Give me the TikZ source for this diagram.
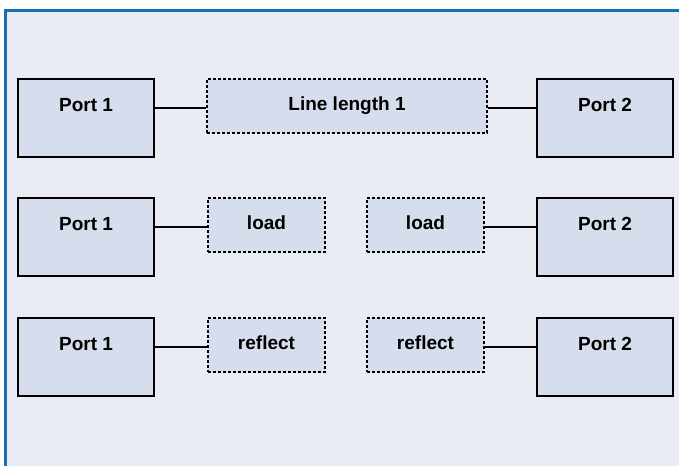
\documentclass[tikz,border=0pt]{standalone}
\usepackage{fontspec}
\setmainfont{Liberation Sans}
\definecolor{panelbg}{RGB}{233,236,245}
\definecolor{boxfill}{RGB}{214,221,236}
\definecolor{frameblue}{RGB}{22,112,180}
\begin{document}
\begin{tikzpicture}[x=1pt,y=-1pt,
  lbl/.style={font=\bfseries\fontsize{19}{22}\selectfont},
  portbox/.style={lbl,draw=black,line width=1.4pt,fill=boxfill,inner sep=0pt,
    minimum width=136pt,text height=32.8pt,text depth=45.2pt},
  dashbox/.style={lbl,draw=black,line width=1.2pt,dash pattern=on 3pt off 2pt,
    fill=boxfill,inner sep=0pt,text height=31.6pt,text depth=22.4pt},
  wire/.style={draw=black,line width=1.2pt}]
  \useasboundingbox (0,0) rectangle (679,466);
  \fill[white] (0,0) rectangle (679,466);
  % outer panel, running off the right and bottom edges
  \fill[panelbg] (5.5,10.5) rectangle (679,466);
  \draw[frameblue,line width=3pt] (5.5,466) -- (5.5,10.5) -- (679,10.5);

  % row 1: through line
  \node[portbox] (pa1) at (86,118) {Port 1};
  \node[portbox] (pb1) at (605,118) {Port 2};
  \node[dashbox,minimum width=280pt] (ll) at (347,106) {Line length 1};
  \draw[wire] ([yshift=-2pt]ll.west -| pa1.east) -- ([yshift=-2pt]ll.west);
  \draw[wire] ([yshift=-2pt]ll.east) -- ([yshift=-2pt]ll.east -| pb1.west);

  % row 2: loads
  \node[portbox] (pa2) at (86,237) {Port 1};
  \node[portbox] (pb2) at (605,237) {Port 2};
  \node[dashbox,minimum width=117pt] (ld1) at (266.5,225) {load};
  \node[dashbox,minimum width=117pt] (ld2) at (425.5,225) {load};
  \draw[wire] ([yshift=-2pt]ld1.west -| pa2.east) -- ([yshift=-2pt]ld1.west);
  \draw[wire] ([yshift=-2pt]ld2.east) -- ([yshift=-2pt]ld2.east -| pb2.west);

  % row 3: reflects
  \node[portbox] (pa3) at (86,357) {Port 1};
  \node[portbox] (pb3) at (605,357) {Port 2};
  \node[dashbox,minimum width=117pt] (rf1) at (266.5,345) {reflect};
  \node[dashbox,minimum width=117pt] (rf2) at (425.5,345) {reflect};
  \draw[wire] ([yshift=-2pt]rf1.west -| pa3.east) -- ([yshift=-2pt]rf1.west);
  \draw[wire] ([yshift=-2pt]rf2.east) -- ([yshift=-2pt]rf2.east -| pb3.west);
\end{tikzpicture}
\end{document}
